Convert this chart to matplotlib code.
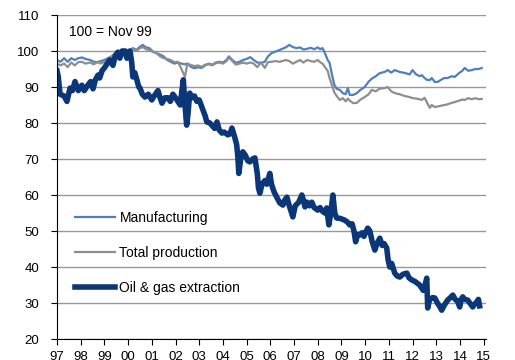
import matplotlib
matplotlib.use("Agg")
import matplotlib.pyplot as plt

plt.rcParams['font.family'] = ['Liberation Sans', 'DejaVu Sans']

# Oil & gas extraction (index, 100 = Nov 99)
oil_x = [1997.0, 1997.05, 1997.13, 1997.3, 1997.42, 1997.55, 1997.65, 1997.76, 1997.9, 1998.05,
         1998.15, 1998.3, 1998.42, 1998.52, 1998.62, 1998.73, 1998.8, 1998.9, 1999.02, 1999.12,
         1999.23, 1999.36, 1999.45, 1999.57, 1999.65, 1999.75, 1999.87, 1999.95, 2000.08, 2000.15,
         2000.2, 2000.28, 2000.37, 2000.45, 2000.5, 2000.6, 2000.71, 2000.85, 2001.0, 2001.1,
         2001.26, 2001.35, 2001.43, 2001.55, 2001.68, 2001.78, 2001.89, 2002.0, 2002.1, 2002.2,
         2002.27, 2002.33, 2002.4, 2002.47, 2002.52, 2002.6, 2002.7, 2002.8, 2002.9, 2003.0,
         2003.16, 2003.25, 2003.32, 2003.45, 2003.53, 2003.65, 2003.75, 2003.85, 2003.96, 2004.05,
         2004.21, 2004.3, 2004.38, 2004.5, 2004.58, 2004.63, 2004.67, 2004.75, 2004.84, 2004.95,
         2005.05, 2005.14, 2005.25, 2005.35, 2005.45, 2005.5, 2005.56, 2005.65, 2005.77, 2005.85,
         2005.98, 2006.05, 2006.15, 2006.27, 2006.4, 2006.53, 2006.6, 2006.7, 2006.8, 2006.9,
         2006.95, 2007.05, 2007.2, 2007.33, 2007.4, 2007.46, 2007.55, 2007.65, 2007.75, 2007.85,
         2008.0, 2008.1, 2008.2, 2008.3, 2008.38, 2008.47, 2008.55, 2008.64, 2008.72, 2008.8,
         2008.95, 2009.14, 2009.25, 2009.35, 2009.45, 2009.53, 2009.6, 2009.68, 2009.77, 2009.87,
         2009.95, 2010.05, 2010.11, 2010.2, 2010.3, 2010.41, 2010.5, 2010.62, 2010.72, 2010.8,
         2010.91, 2010.97, 2011.04, 2011.12, 2011.25, 2011.35, 2011.46, 2011.6, 2011.76, 2011.85,
         2011.97, 2012.1, 2012.2, 2012.3, 2012.45, 2012.55, 2012.6, 2012.64, 2012.72, 2012.85,
         2012.94, 2013.05, 2013.15, 2013.23, 2013.35, 2013.48, 2013.6, 2013.7, 2013.8, 2013.9,
         2013.99, 2014.05, 2014.12, 2014.2, 2014.33, 2014.42, 2014.54, 2014.6, 2014.71, 2014.78,
         2014.83]
oil = [94.5, 93, 88, 87.5, 86, 89.7, 89, 91.5, 89, 90.5,
       89, 90.5, 91.5, 89.5, 92, 93.3, 92.5, 94.5, 95.5, 96.5,
       97.5, 96, 98.5, 99.7, 98, 100, 100, 98, 100, 97,
       92.8, 94, 92, 90, 89.7, 88, 87.2, 88, 86.4, 87.5,
       89, 87, 85.5, 87, 87, 86, 88, 87, 86, 85,
       89, 92, 85, 79.4, 82, 88.3, 87, 87.5, 86, 86.4,
       83.6, 82, 80.3, 80, 79.4, 78.5, 80.3, 78, 77.2, 77.5,
       76.7, 77, 78.6, 76, 74, 70.6, 66, 70, 72, 71,
       69.5, 69.2, 70, 70.3, 66, 62, 60.5, 63, 64, 63,
       66, 63, 61, 59.4, 57.8, 57.2, 58.5, 59.4, 57, 55,
       53.9, 57, 58, 60, 58.5, 56.7, 58, 57, 58, 56.5,
       55.8, 56.5, 55.5, 55, 56.4, 51.7, 55, 60, 55, 53.6,
       53.5, 53, 52.5, 51.7, 52, 50, 47, 49, 48.9, 49.5,
       48.5, 50, 50.8, 50, 47, 44.7, 46.5, 48, 46, 46.5,
       45.3, 42, 40, 41, 38.3, 37.5, 37.2, 38, 38.3, 37,
       36.4, 36, 35.5, 35, 33.5, 35.5, 36.9, 28.6, 31, 31.5,
       31.4, 30, 29, 28, 29.5, 30.8, 31.5, 32.2, 31, 30.5,
       28.9, 31, 31.7, 31, 30.8, 30, 28.9, 29.5, 30.3, 31,
       29.2]

# Manufacturing and total production share one date list
prod_x = [1997.0, 1997.15, 1997.3, 1997.45, 1997.6, 1997.75, 1997.9, 1998.05, 1998.2, 1998.4,
          1998.55, 1998.7, 1998.85, 1999.0, 1999.15, 1999.3, 1999.45, 1999.6, 1999.75, 1999.9,
          2000.05, 2000.2, 2000.35, 2000.5, 2000.62, 2000.75, 2000.9, 2001.05, 2001.2, 2001.35,
          2001.5, 2001.65, 2001.8, 2001.95, 2002.1, 2002.25, 2002.4, 2002.5, 2002.65, 2002.8,
          2002.95, 2003.1, 2003.25, 2003.4, 2003.55, 2003.7, 2003.85, 2004.0, 2004.15, 2004.25,
          2004.4, 2004.55, 2004.7, 2004.85, 2005.0, 2005.15, 2005.3, 2005.45, 2005.6, 2005.77,
          2005.9, 2006.05, 2006.2, 2006.4, 2006.5, 2006.65, 2006.8, 2006.95, 2007.1, 2007.25,
          2007.4, 2007.55, 2007.7, 2007.85, 2008.0, 2008.1, 2008.2, 2008.3, 2008.42, 2008.5,
          2008.6, 2008.7, 2008.8, 2008.93, 2009.06, 2009.18, 2009.27, 2009.35, 2009.5, 2009.65,
          2009.8, 2009.98, 2010.15, 2010.28, 2010.45, 2010.6, 2010.83, 2010.95, 2011.1, 2011.25,
          2011.45, 2011.67, 2011.88, 2012.0, 2012.15, 2012.3, 2012.39, 2012.51, 2012.6, 2012.73,
          2012.81, 2012.94, 2013.06, 2013.2, 2013.35, 2013.48, 2013.65, 2013.78, 2013.95, 2014.1,
          2014.2, 2014.35, 2014.5, 2014.65, 2014.8, 2014.92]
manufacturing = [97.5, 97, 98, 97, 98, 97.5, 98, 98.2, 97.8, 97.5,
                 97, 96.9, 97.2, 97.5, 98, 98.5, 99.4, 99.8, 100, 100.2,
                 100, 100.8, 100.3, 101.2, 101.7, 101, 100.8, 99.8, 99.4, 99,
                 98.5, 97.5, 97, 96.5, 96.8, 96.5, 96.3, 96.5, 95.6, 95.2,
                 95.5, 95.3, 96, 96.5, 96.2, 96.8, 97, 96.8, 97.5, 98.5,
                 97.5, 96.7, 97, 97.5, 97.8, 98.3, 97.5, 96.8, 96.7, 97,
                 98.5, 99.4, 99.8, 100.3, 100.6, 101, 101.7, 101.1, 100.8, 101,
                 100.4, 100.6, 100.9, 100.5, 101, 100.5, 100.8, 99.5, 97.5, 96.7,
                 93.5, 90.6, 89.5, 89.2, 88.3, 88, 89.7, 87.8, 87.8, 88.3,
                 89.2, 90, 91.5, 92.3, 93, 93.8, 94.2, 94.7, 94, 94.7,
                 94.2, 93.9, 93.5, 94.7, 93.5, 93, 93.3, 92.5, 92, 91.9,
                 92.5, 91.4, 91.4, 92, 92.5, 92.5, 93, 92.8, 93.8, 94.5,
                 95.3, 94.5, 94.7, 95, 95, 95.3]
total_production = [96.5, 96, 96.5, 95.5, 96.8, 96, 96.9, 97, 96.5, 96.8,
                    96.3, 96.9, 96.5, 97, 97.5, 98.5, 99, 99.5, 100, 100.3,
                    100.3, 100.5, 100, 100.8, 101.1, 100.5, 100.2, 99.8, 99.4, 98.5,
                    98, 97.8, 97.5, 96.9, 97, 95, 92.8, 96.5, 96.1, 95.8,
                    96, 95.6, 96.2, 96.3, 96, 96.6, 96.8, 96.5, 97.2, 98.2,
                    97.2, 96.2, 96.5, 96.8, 96.5, 96.8, 96.5, 95.5, 96.8, 95.3,
                    96.9, 97, 97.2, 97, 97.2, 97.5, 97.2, 96.5, 97, 97.5,
                    96.8, 97.5, 97.2, 97, 97.5, 96.9, 96.5, 95.6, 94.5, 92.5,
                    90.5, 88.5, 87.5, 86.4, 86.9, 86, 86.8, 86.2, 85.5, 85.6,
                    86.5, 87.2, 88, 89.2, 88.8, 89.5, 89.7, 90, 88.8, 88.3,
                    88, 87.5, 87.2, 86.9, 86.8, 86.6, 86.4, 87, 85.8, 84.2,
                    85, 84.4, 84.6, 84.8, 85, 85.2, 85.6, 85.8, 86.2, 86.5,
                    86.4, 86.9, 86.6, 86.9, 86.6, 86.7]

year_ticks = list(range(1997, 2016))
year_labels = ['%02d' % (y % 100) for y in year_ticks]

fig = plt.figure(figsize=(5.15, 3.6), dpi=100)
ax = fig.add_axes([57 / 515, 1 - 339 / 360, 429 / 515, 324 / 360])

ax.plot(prod_x, manufacturing, color='#4f7fbc', lw=1.6, label='Manufacturing')
ax.plot(prod_x, total_production, color='#8e8e8e', lw=1.6, label='Total production')
ax.plot(oil_x, oil, color='#0b3677', lw=4, solid_joinstyle='round',
        label='Oil & gas extraction')

ax.set_xlim(1997, 2015.1)
ax.set_ylim(20, 110)
ax.set_yticks(range(20, 111, 10))
ax.set_xticks(year_ticks)
ax.set_xticklabels(year_labels)
ax.yaxis.grid(True, color='#999999', lw=1)
ax.set_axisbelow(True)
for s in ['top', 'right']:
    ax.spines[s].set_visible(False)
ax.spines['left'].set_color('black')
ax.spines['bottom'].set_color('black')
ax.tick_params(axis='y', length=4, pad=9, labelsize=9.5, direction='out')
ax.tick_params(axis='x', length=4, pad=5, labelsize=9.5, direction='out')

fig.text(69 / 515, 1 - 32 / 360, '100 = Nov 99', fontsize=10, va='center', ha='left')

ax.legend(loc='upper left', bbox_to_anchor=(75 / 515, 1 - 211 / 360),
          bbox_transform=fig.transFigure, frameon=False, fontsize=10,
          handlelength=2.9, handletextpad=0.3, labelspacing=1.5,
          borderpad=0, borderaxespad=0)

fig.savefig('out.png', dpi=100)
